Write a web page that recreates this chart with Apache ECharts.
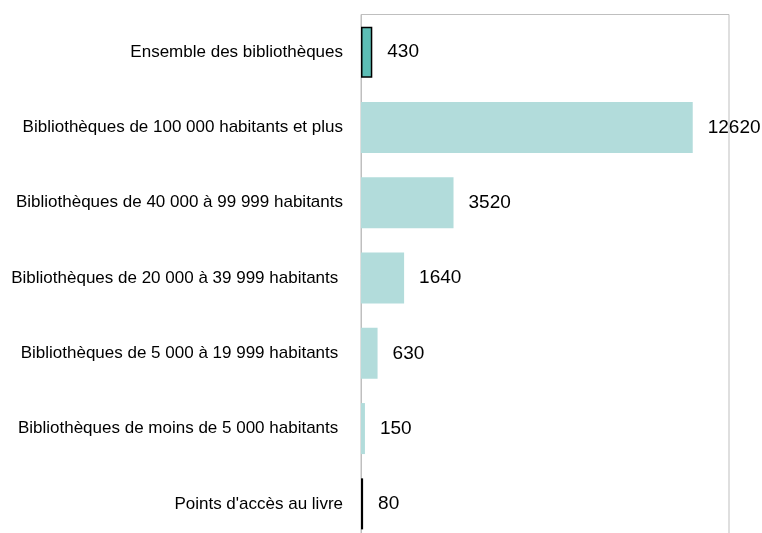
<!DOCTYPE html>
<html>
<head>
<meta charset="utf-8">
<script src="https://cdn.jsdelivr.net/npm/echarts@6/dist/echarts.min.js"></script>
<style>html,body{margin:0;padding:0;background:#fff}#c{width:762px;height:533px}</style>
</head>
<body>
<div id="c"></div>
<script>
const categories = [
  "Ensemble des bibliothèques",
  "Bibliothèques de 100 000 habitants et plus",
  "Bibliothèques de 40 000 à 99 999 habitants",
  "Bibliothèques de 20 000 à 39 999 habitants ",
  "Bibliothèques de 5 000 à 19 999 habitants ",
  "Bibliothèques de moins de 5 000 habitants ",
  "Points d'accès au livre"
];
const values = [430, 12620, 3520, 1640, 630, 150, 80];
const barColors = ["#5cbdb5", "#b2dcdb", "#b2dcdb", "#b2dcdb", "#b2dcdb", "#b2dcdb", "#000000"];
const barBorders = ["#000000", null, null, null, null, null, null];

const chart = echarts.init(document.getElementById('c'));
const data = values.map((v, i) => ({
  value: v,
  itemStyle: barBorders[i]
    ? { color: barColors[i], borderColor: barBorders[i], borderWidth: 1.5 }
    : { color: barColors[i] }
}));
chart.setOption({
  animation: false,
  grid: { left: 361, top: 14.5, width: 368, height: 527, outerBoundsMode: 'none', containLabel: false, show: true, borderColor: '#bfbfbf', borderWidth: 1 },
  xAxis: {
    type: 'value', min: 0, max: 14000, show: true,
    axisLine: { show: false }, axisTick: { show: false }, axisLabel: { show: false }, splitLine: { show: false }
  },
  yAxis: {
    type: 'category', data: categories, inverse: true,
    axisLine: { show: true, lineStyle: { color: '#bfbfbf', width: 1 } },
    axisTick: { show: false },
    axisLabel: { color: '#000', fontFamily: 'Liberation Sans', fontSize: 17, margin: 18 }
  },
  series: [{
    type: 'bar', data: data, barWidth: 51,
    label: { show: true, position: 'right', distance: 15, color: '#000', fontFamily: 'Liberation Sans', fontSize: 19 }
  }]
});
</script>
</body>
</html>
